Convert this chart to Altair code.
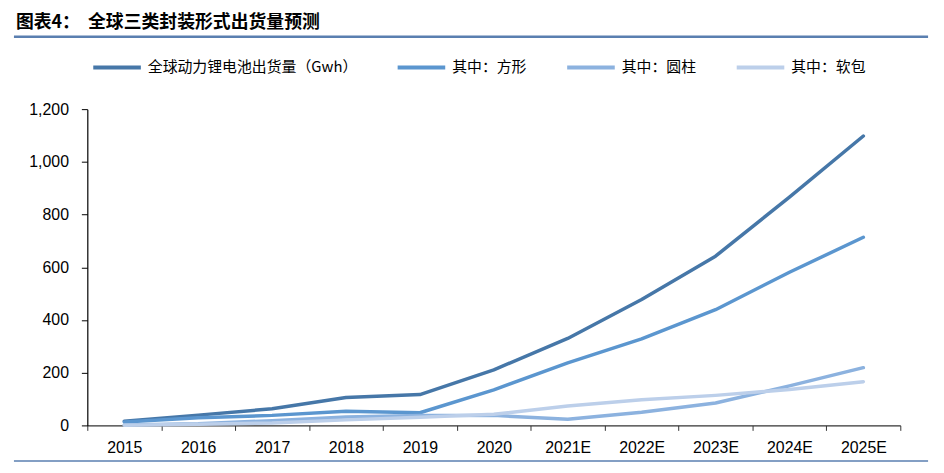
import altair as alt
import pandas as pd

years = ["2015", "2016", "2017", "2018", "2019", "2020", "2021E", "2022E", "2023E", "2024E", "2025E"]
total = [16, 39, 63, 106, 117, 211, 330, 478, 642, 866, 1098]
square = [13, 29, 38, 54, 48, 135, 237, 328, 439, 581, 714]
cylinder = [2, 6, 18, 32, 38, 38, 23, 50, 85, 150, 219]
soft = [1, 4, 9, 21, 31, 42, 74, 97, 114, 136, 166]

names = ["全球动力锂电池出货量（Gwh）", "其中：方形", "其中：圆柱", "其中：软包"]
colors = ["#4677a8", "#5b96cf", "#8cb2df", "#bccfea"]
series = [total, square, cylinder, soft]

rows = []
for n, s in zip(names, series):
    for y, v in zip(years, s):
        rows.append({"year": y, "value": v, "series": n})
df = pd.DataFrame(rows)

FONT = "Noto Sans CJK SC"
NUMFONT = "Liberation Sans"

lines = alt.Chart(df).mark_line(strokeWidth=3.5, strokeCap="round", strokeJoin="round").encode(
    x=alt.X("year:N", sort=years, title=None,
            scale=alt.Scale(type="band", paddingInner=0, paddingOuter=0),
            axis=alt.Axis(labelAngle=0, tickBand="extent", labelFont=NUMFONT, labelFontSize=16,
                          labelColor="#000000", domainColor="#333333", tickColor="#333333",
                          tickSize=5, labelPadding=9, grid=False, domainWidth=1.2)),
    y=alt.Y("value:Q", title=None,
            scale=alt.Scale(domain=[0, 1200], nice=False),
            axis=alt.Axis(values=[0, 200, 400, 600, 800, 1000, 1200], format=",.0f",
                          labelFont=NUMFONT, labelFontSize=16, labelColor="#000000",
                          domainColor="#000000", tickColor="#000000", tickSize=6,
                          labelPadding=13, grid=False, domainWidth=1.2)),
    color=alt.Color("series:N", sort=names,
                    scale=alt.Scale(domain=names, range=colors),
                    legend=alt.Legend(orient="none", legendX=4, legendY=-68, direction="horizontal",
                                      columns=4, title=None, symbolType="stroke", symbolSize=2304,
                                      symbolStrokeWidth=4, labelFont=FONT, labelFontSize=15,
                                      labelLimit=400, labelColor="#000000", columnPadding=32,
                                      labelOffset=5)),
)

marker = pd.DataFrame({"a": [0]})
top_rule = alt.Chart(marker).mark_rule(color="#5a7fb0", strokeWidth=2.5).encode(
    x=alt.value(-74), x2=alt.value(848), y=alt.value(-73))
bottom_rule = alt.Chart(marker).mark_rule(color="#5a7fb0", strokeWidth=1.5).encode(
    x=alt.value(-74), x2=alt.value(848), y=alt.value(355))

chart = alt.layer(lines, top_rule, bottom_rule).properties(
    width=820, height=319,
    autosize=alt.AutoSizeParams(type="none"),
    padding={"left": 80, "top": 100, "right": 36, "bottom": 46},
    title=alt.TitleParams("图表4：\u00a0\u00a0全球三类封装形式出货量预测", anchor="start", frame="group",
                          dx=-72, offset=4, font=FONT, fontSize=18, fontWeight="bold",
                          color="#000000"),
).configure_view(stroke=None)

chart.save("out.html", embed_options={"renderer": "svg", "actions": False})
